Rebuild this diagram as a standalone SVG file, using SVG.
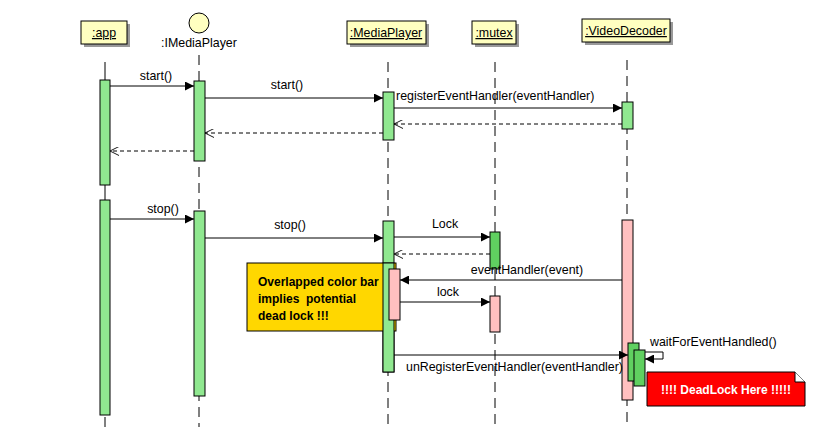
<svg xmlns="http://www.w3.org/2000/svg" width="817" height="427" viewBox="0 0 817 427">
<style>
  text { font-family: "Liberation Sans", Arial, sans-serif; font-size: 12.4px; fill: #000; }
  .head { fill: #ffffc0; stroke: #000; stroke-width: 1; }
  .shadow { fill: #999; }
  .ul { text-decoration: underline; }
  .life { stroke: #000; stroke-width: 1; stroke-dasharray: 10 6; fill: none; }
  .solid { stroke: #000; stroke-width: 1; fill: none; }
  .act { fill: #90e890; stroke: #000; stroke-width: 1; }
  .act2 { fill: #60d060; stroke: #000; stroke-width: 1; }
  .pink { fill: #ffc0c0; stroke: #000; stroke-width: 1; }
  .msg { stroke: #000; stroke-width: 1; fill: none; }
  .call { marker-end: url(#filled); }
  .ret { stroke-dasharray: 4 3; marker-end: url(#open); }
  .bold { font-weight: bold; font-size: 12px; }
</style>
<defs>
  <marker id="filled" viewBox="0 0 10 10" refX="10" refY="5" markerWidth="9" markerHeight="9" markerUnits="userSpaceOnUse" orient="auto">
    <path d="M0,0 L10,5 L0,10 z" fill="#000"/>
  </marker>
  <marker id="open" viewBox="0 0 10 10" refX="10" refY="5" markerWidth="9" markerHeight="9" markerUnits="userSpaceOnUse" orient="auto">
    <path d="M0,0 L10,5 L0,10" fill="none" stroke="#000" stroke-width="1"/>
  </marker>
</defs>
<rect width="817" height="427" fill="#fff"/>

<g id="lifelines">
  <line class="solid" x1="105" y1="62" x2="105" y2="200"/>
  <line class="life" x1="105" y1="417" x2="105" y2="427"/>
  <line class="life" x1="199" y1="55" x2="199" y2="427"/>
  <line class="life" x1="388" y1="62" x2="388" y2="427"/>
  <line class="life" x1="495" y1="62" x2="495" y2="427"/>
  <line class="life" x1="627" y1="60" x2="627" y2="427"/>
</g>

<g id="app">
  <rect class="shadow" x="84" y="24" width="46" height="23"/>
  <rect class="head" x="81" y="21" width="46" height="23"/>
  <text class="ul" x="104" y="37" text-anchor="middle">:app</text>
  <rect class="act" x="100" y="80" width="10" height="105"/>
  <rect class="act" x="100" y="200" width="10" height="215"/>
</g>

<g id="IMediaPlayer">
  <circle cx="199" cy="23" r="10" fill="#ffffc0" stroke="#000"/>
  <text x="199" y="47" text-anchor="middle">:IMediaPlayer</text>
  <rect class="act" x="194" y="81" width="11" height="80"/>
  <rect class="act" x="194" y="211" width="11" height="185"/>
</g>

<g id="MediaPlayer">
  <rect class="shadow" x="350" y="24" width="79" height="23"/>
  <rect class="head" x="347" y="21" width="79" height="23"/>
  <text class="ul" x="386" y="37" text-anchor="middle">:MediaPlayer</text>
  <rect class="act" x="383" y="92" width="11" height="48"/>
  <rect class="act" x="383" y="221" width="11" height="151"/>
</g>

<g id="note">
  <rect x="247" y="263" width="149" height="68" fill="#ffd700" stroke="#000"/>
  <text class="bold" x="258" y="286">Overlapped color bar</text>
  <text class="bold" x="258" y="303" xml:space="preserve">implies  potential</text>
  <text class="bold" x="258" y="320">dead lock !!!</text>
  <rect class="act" x="383" y="263" width="11" height="109"/>
  <rect class="pink" x="389" y="269" width="11" height="51"/>
</g>

<g id="mutex">
  <rect class="shadow" x="475" y="24" width="44" height="23"/>
  <rect class="head" x="472" y="21" width="44" height="23"/>
  <text class="ul" x="494" y="37" text-anchor="middle">:mutex</text>
  <rect class="act2" x="490" y="232" width="10" height="37"/>
  <rect class="pink" x="490" y="296" width="10" height="36"/>
</g>

<g id="VideoDecoder">
  <rect class="shadow" x="585" y="22" width="88" height="23"/>
  <rect class="head" x="582" y="19" width="88" height="23"/>
  <text class="ul" x="626" y="35" text-anchor="middle">:VideoDecoder</text>
  <rect class="act" x="622" y="102" width="11" height="27"/>
  <rect class="pink" x="622" y="220" width="11" height="180"/>
  <rect class="act2" x="628" y="343" width="11" height="38"/>
  <rect class="act2" x="634" y="350" width="11" height="36"/>
</g>

<g id="connectors">
  <line class="msg call" x1="110" y1="86" x2="194" y2="86"/>
  <text x="156" y="80" text-anchor="middle">start()</text>
  <line class="msg call" x1="205" y1="98" x2="383" y2="98"/>
  <text x="287" y="89" text-anchor="middle">start()</text>
  <line class="msg call" x1="394" y1="108" x2="622" y2="108"/>
  <text x="396" y="100">registerEventHandler(eventHandler)</text>
  <line class="msg ret" x1="622" y1="124" x2="394" y2="124"/>
  <line class="msg ret" x1="383" y1="133" x2="205" y2="133"/>
  <line class="msg ret" x1="194" y1="151" x2="110" y2="151"/>

  <line class="msg call" x1="110" y1="219" x2="194" y2="219"/>
  <text x="163" y="213" text-anchor="middle">stop()</text>
  <line class="msg call" x1="205" y1="238" x2="383" y2="238"/>
  <text x="290" y="229" text-anchor="middle">stop()</text>
  <line class="msg call" x1="394" y1="237" x2="490" y2="237"/>
  <text x="445" y="228" text-anchor="middle">Lock</text>
  <line class="msg ret" x1="490" y1="254" x2="394" y2="254"/>
  <line class="msg call" x1="622" y1="280" x2="400" y2="280"/>
  <text x="527" y="274" text-anchor="middle">eventHandler(event)</text>
  <line class="msg call" x1="400" y1="302" x2="490" y2="302"/>
  <text x="448" y="296" text-anchor="middle">lock</text>
  <line class="msg call" x1="394" y1="355" x2="628" y2="355"/>
  <text x="406" y="371">unRegisterEventHandler(eventHandler)</text>
  <path class="msg call" d="M645,352 L663,352 L663,359 L645,359"/>
  <text x="650" y="346">waitForEventHandled()</text>
</g>

<g id="deadlock">
  <path d="M647,372 L795,372 L805,382 L805,406 L647,406 z" fill="#ff0000" stroke="#000"/>
  <path d="M795,372 L795,382 L805,382" fill="#fff" stroke="#000"/>
  <text class="bold" x="726" y="394" text-anchor="middle" style="fill:#fff">!!!! DeadLock Here !!!!!</text>
</g>
</svg>
